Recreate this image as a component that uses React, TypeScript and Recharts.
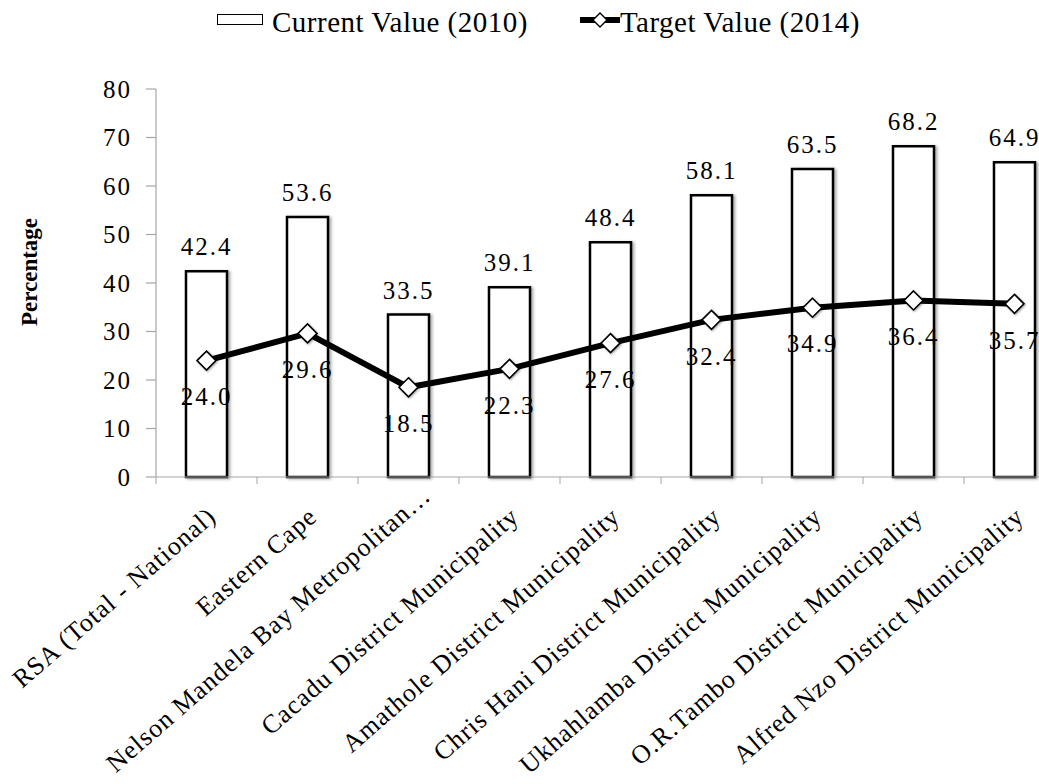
import React from 'react';
import { ComposedChart, Bar, Line, XAxis, YAxis, Legend, LabelList, Rectangle } from 'recharts';

const FONT = "'Liberation Serif', 'Times New Roman', Times, serif";

const categories = [
  'RSA (Total - National)',
  'Eastern Cape',
  'Nelson Mandela Bay Metropolitan\u2026',
  'Cacadu District Municipality',
  'Amathole District Municipality',
  'Chris Hani District Municipality',
  'Ukhahlamba District Municipality',
  'O.R.Tambo District Municipality',
  'Alfred Nzo District Municipality',
];
const currentValues = [42.4, 53.6, 33.5, 39.1, 48.4, 58.1, 63.5, 68.2, 64.9];
const targetValues = [24.0, 29.6, 18.5, 22.3, 27.6, 32.4, 34.9, 36.4, 35.7];
const yTicks = [0, 10, 20, 30, 40, 50, 60, 70, 80];

const CURRENT_NAME = 'Current Value (2010)';
const TARGET_NAME = 'Target Value (2014)';

const data = categories.map((name, i) => ({
  name,
  current: currentValues[i],
  target: targetValues[i],
}));

const AXIS_GRAY = '#a6a6a6';

const XTick = (props: any) => {
  const { x, y, payload, width, visibleTicksCount } = props;
  const half =
    payload && typeof payload.offset === 'number' && payload.offset > 0
      ? payload.offset
      : width / (visibleTicksCount || 9) / 2;
  const truncated = String(payload.value).endsWith('\u2026');
  const ax = x + (truncated ? 24 : 11);
  const ay = y + (truncated ? 21 : 42);
  return (
    <g>
      <line x1={x - half} x2={x - half} y1={y} y2={y + 7} stroke={AXIS_GRAY} strokeWidth={1} />
      <text
        x={ax}
        y={ay}
        transform={`rotate(-41, ${ax}, ${ay})`}
        textAnchor="end"
        fontSize={26}
        letterSpacing={1}
        fontFamily={FONT}
        fill="#000"
      >
        {payload.value}
      </text>
    </g>
  );
};

const Diamond = (props: any) => {
  const { cx, cy, index } = props;
  if (cx == null || cy == null) return <g key={`d-${index}`} />;
  const r = 9.5;
  return (
    <polygon
      key={`d-${index}`}
      points={`${cx},${cy - r} ${cx + r},${cy} ${cx},${cy + r} ${cx - r},${cy}`}
      fill="#fff"
      stroke="#000"
      strokeWidth={1.6}
      style={{ filter: 'drop-shadow(1.5px 1.5px 1.2px rgba(0,0,0,0.35))' }}
    />
  );
};

const ShadowBar = (props: any) => (
  <Rectangle {...props} style={{ filter: 'drop-shadow(2px 1px 1.5px rgba(0,0,0,0.35))' }} />
);

const renderLegend = () => (
  <div
    style={{
      height: 44,
      width: 1039,
      display: 'flex',
      alignItems: 'center',
      paddingLeft: 217,
      boxSizing: 'border-box',
      fontSize: 29,
      letterSpacing: 0.5,
      fontFamily: FONT,
      color: '#000',
      whiteSpace: 'nowrap',
    }}
  >
    <span
      style={{
        display: 'inline-block',
        width: 46,
        height: 11,
        border: '1.3px solid #000',
        boxSizing: 'border-box',
        background: '#fff',
        position: 'relative',
        top: -3,
      }}
    />
    <span style={{ marginLeft: 9 }}>{CURRENT_NAME}</span>
    <svg width={40} height={20} style={{ marginLeft: 52, position: 'relative', top: -2 }}>
      <line x1={0} x2={40} y1={10} y2={10} stroke="#000" strokeWidth={6} />
      <polygon points="20,3 27,10 20,17 13,10" fill="#fff" stroke="#000" strokeWidth={1.4} />
    </svg>
    <span>{TARGET_NAME}</span>
  </div>
);

const YTitle = (props: any) => {
  const vb = props.viewBox || { x: 0, y: 0, width: 0, height: 0 };
  const cx = vb.x + 29;
  const cy = vb.y + vb.height / 2 - 11;
  return (
    <text
      x={cx}
      y={cy}
      transform={`rotate(-90, ${cx}, ${cy})`}
      textAnchor="middle"
      dominantBaseline="central"
      fontSize={23}
      fontWeight="bold"
      fontFamily={FONT}
      fill="#000"
    >
      Percentage
    </text>
  );
};

const fmt = (v: any) => (typeof v === 'number' ? v.toFixed(1) : v);

export default function App() {
  return (
    <div
      style={{
        position: 'absolute',
        left: 0,
        top: 0,
        width: 1039,
        height: 784,
        overflow: 'hidden',
        background: '#fff',
        fontFamily: FONT,
      }}
    >
      <ComposedChart
        width={1065}
        height={784}
        data={data}
        margin={{ top: 45, right: 0, bottom: 0, left: 0 }}
        style={{ fontFamily: FONT }}
      >
        <Legend
          verticalAlign="top"
          align="left"
          content={renderLegend}
          wrapperStyle={{ top: 0, left: 0 }}
        />
        <XAxis
          dataKey="name"
          type="category"
          height={307}
          interval={0}
          tickLine={false}
          tickSize={0}
          tickMargin={0}
          axisLine={{ stroke: AXIS_GRAY, strokeWidth: 1.2 }}
          tick={<XTick />}
        />
        <YAxis
          type="number"
          domain={[0, 80]}
          ticks={yTicks}
          width={156}
          interval={0}
          tickSize={10}
          tickMargin={14}
          axisLine={{ stroke: AXIS_GRAY, strokeWidth: 1.2 }}
          tickLine={{ stroke: AXIS_GRAY, strokeWidth: 1.2 }}
          tick={{ fontSize: 25, fill: '#000', fontFamily: FONT, letterSpacing: 2 }}
          label={{ content: <YTitle /> }}
        />
        <Bar
          dataKey="current"
          name={CURRENT_NAME}
          barSize={41}
          fill="#fff"
          stroke="#000"
          strokeWidth={2.5}
          shape={<ShadowBar />}
          isAnimationActive={false}
        >
          <LabelList
            dataKey="current"
            position="top"
            offset={16}
            formatter={fmt}
            fontSize={25}
            fill="#000"
            fontFamily={FONT}
            letterSpacing={2}
          />
        </Bar>
        <Line
          dataKey="target"
          name={TARGET_NAME}
          stroke="#000"
          strokeWidth={6}
          dot={<Diamond />}
          activeDot={false}
          isAnimationActive={false}
        >
          <LabelList
            dataKey="target"
            position="bottom"
            offset={27}
            formatter={fmt}
            fontSize={25}
            fill="#000"
            fontFamily={FONT}
            letterSpacing={2}
          />
        </Line>
      </ComposedChart>
    </div>
  );
}
